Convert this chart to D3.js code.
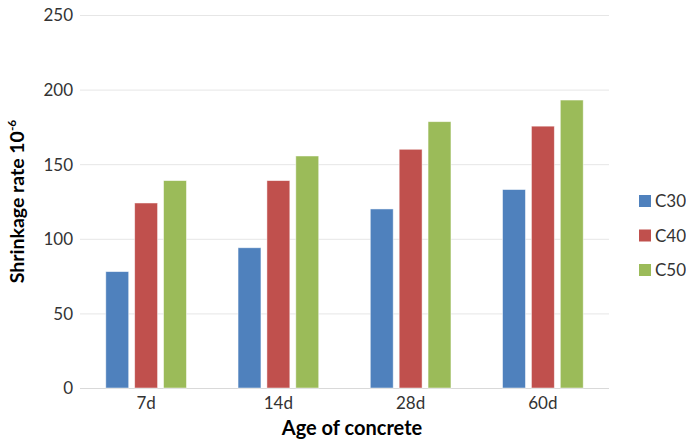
<!DOCTYPE html>
<html><head><meta charset="utf-8">
<script src="https://cdn.jsdelivr.net/npm/d3@7"></script>
<style>body{margin:0;background:#fff}svg{display:block}text{font-family:Lato,"Open Sans",sans-serif}</style>
</head><body><svg id="c" width="686" height="441"></svg>
<script>
const categories = ["7d","14d","28d","60d"];
const seriesNames = ["C30","C40","C50"];
const C30 = [78, 94, 120, 133];
const C40 = [124, 139, 160, 175.5];
const C50 = [139, 155.5, 178.5, 193];
const yTicks = [0,50,100,150,200,250];
const colors = ["#4F81BD","#C0504D","#9BBB59"];
const values = [C30, C40, C50];

const svg = d3.select("#c");
const L = 80, R = 609, T = 15, B = 388;
const x = d3.scaleBand().domain(categories).range([L,R]).paddingInner(0.39).paddingOuter(0.195);
const xs = d3.scaleBand().domain(seriesNames).range([0,x.bandwidth()]).paddingInner(0.207).paddingOuter(0);
const y = d3.scaleLinear().domain([0,250]).range([B,T]);

svg.append("g").selectAll("line").data(yTicks).join("line")
  .attr("x1",L).attr("x2",R).attr("y1",d=>y(d)+0.5).attr("y2",d=>y(d)+0.5)
  .attr("stroke",d=>d===0?"#d9d9d9":"#e6e6e6").attr("stroke-width",1);

const yAxis = d3.axisLeft(y).tickValues(yTicks).tickSize(0).tickPadding(0);
const gy = svg.append("g").attr("transform",`translate(${L-7},0)`).call(yAxis);
gy.select(".domain").remove();
gy.selectAll("text").attr("font-size",17).attr("fill","#333").attr("dy","0.35em");

const xAxis = d3.axisBottom(x).tickSize(0).tickPadding(0);
const gx = svg.append("g").attr("transform",`translate(0,${B+7})`).call(xAxis);
gx.select(".domain").remove();
gx.selectAll("text").attr("font-size",17).attr("fill","#333").attr("dy","0.8em");

seriesNames.forEach((s,si)=>{
  svg.append("g").selectAll("rect").data(categories).join("rect")
    .attr("x",c=>x(c)+xs(s))
    .attr("width",xs.bandwidth())
    .attr("y",(c,i)=>y(values[si][i]))
    .attr("height",(c,i)=>B-y(values[si][i]))
    .attr("fill",colors[si])
    .attr("stroke","#ffffff").attr("stroke-opacity",0.6).attr("stroke-width",0.8);
});

svg.append("text").attr("x",352).attr("y",435).attr("text-anchor","middle")
  .attr("font-size",20).attr("font-weight","bold").attr("fill","#000").text("Age of concrete");
const yt = svg.append("text").attr("transform",`translate(24,${(T+B)/2}) rotate(-90)`)
  .attr("text-anchor","middle").attr("font-size",19.5).attr("font-weight","bold").attr("fill","#000");
yt.append("tspan").text("Shrinkage rate 10");
yt.append("tspan").attr("font-size",12).attr("dy","-0.65em").text("-6");

const lg = svg.append("g").selectAll("g").data(seriesNames).join("g")
  .attr("transform",(d,i)=>`translate(639,${195+i*34.5})`);
lg.append("rect").attr("width",12).attr("height",12).attr("fill",(d,i)=>colors[i]);
lg.append("text").attr("x",16).attr("y",6).attr("dy","0.36em").attr("font-size",17).attr("fill","#333").text(d=>d);
</script></body></html>
